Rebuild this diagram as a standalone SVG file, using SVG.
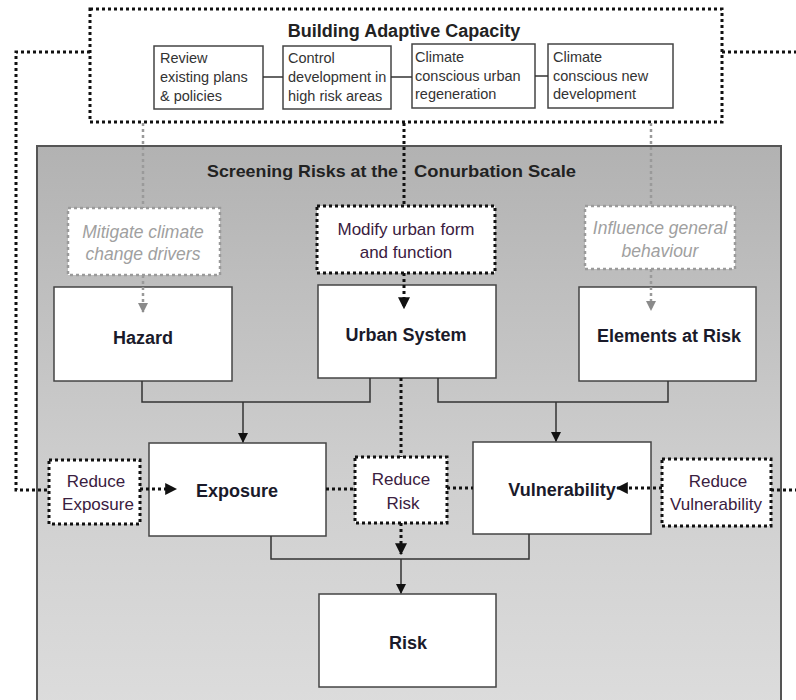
<svg xmlns="http://www.w3.org/2000/svg" width="796" height="700" viewBox="0 0 796 700">
<defs>
<linearGradient id="panelGrad" x1="0" y1="0" x2="0" y2="1">
<stop offset="0" stop-color="#b2b2b2"/>
<stop offset="0.6" stop-color="#cfcfcf"/>
<stop offset="1" stop-color="#dcdcdc"/>
</linearGradient>
<marker id="arrBlack" viewBox="0 0 10 10" refX="9" refY="5" markerWidth="4" markerHeight="4" orient="auto" markerUnits="strokeWidth">
<path d="M0,0 L10,5 L0,10 z" fill="#111"/>
</marker>
<marker id="arrSolid" viewBox="0 0 10 10" refX="9" refY="5" markerWidth="7" markerHeight="7" orient="auto" markerUnits="strokeWidth">
<path d="M0,0 L10,5 L0,10 z" fill="#111"/>
</marker>
<marker id="arrGray" viewBox="0 0 10 10" refX="9" refY="5" markerWidth="4" markerHeight="4" orient="auto" markerUnits="strokeWidth">
<path d="M0,0 L10,5 L0,10 z" fill="#8a8a8a"/>
</marker>
</defs>
<style>
.dotBlack{fill:none;stroke:#111;stroke-width:3;stroke-dasharray:3 3}
.dotGray{fill:none;stroke:#9a9a9a;stroke-width:2.5;stroke-dasharray:3 3}
.solid{fill:none;stroke:#333;stroke-width:1.5}
.box{fill:#fff;stroke:#444;stroke-width:1.5}
.small{font-family:"Liberation Sans",Arial,sans-serif;font-size:14.5px;fill:#333}
.title{font-family:"Liberation Sans",Arial,sans-serif;font-size:17px;font-weight:bold;fill:#222}
.node{font-family:"Liberation Sans",Arial,sans-serif;font-size:18px;font-weight:bold;fill:#1a1a2a;text-anchor:middle}
.act{font-family:"Liberation Sans",Arial,sans-serif;font-size:17px;fill:#3a2040;text-anchor:middle}
.gray{font-family:"Liberation Sans",Arial,sans-serif;font-size:17.5px;font-style:italic;fill:#a0a0a0;text-anchor:middle}
</style>

<g id="panel">
<rect x="37" y="146" width="744" height="560" fill="url(#panelGrad)" stroke="#555" stroke-width="2"/>
<text class="title" x="207" y="177" textLength="191" lengthAdjust="spacingAndGlyphs">Screening Risks at the</text>
<text class="title" x="414" y="177" textLength="162" lengthAdjust="spacingAndGlyphs">Conurbation Scale</text>
</g>

<g id="adaptive-capacity">
<rect class="dotBlack" x="90" y="9" width="632" height="113"/>
<text class="title" x="404" y="37" style="font-size:18px;text-anchor:middle">Building Adaptive Capacity</text>
</g>

<g id="review-plans">
<rect class="box" x="154" y="46" width="109" height="63"/>
<text class="small" x="160" y="63">Review</text>
<text class="small" x="160" y="82">existing plans</text>
<text class="small" x="160" y="101">&amp; policies</text>
</g>
<g id="control-development">
<rect class="box" x="283" y="46" width="108" height="63"/>
<text class="small" x="288" y="63">Control</text>
<text class="small" x="288" y="82">development in</text>
<text class="small" x="288" y="101">high risk areas</text>
</g>
<g id="urban-regeneration">
<rect class="box" x="412" y="44" width="123" height="64"/>
<text class="small" x="415" y="62">Climate</text>
<text class="small" x="415" y="81">conscious urban</text>
<text class="small" x="415" y="99">regeneration</text>
</g>
<g id="new-development">
<rect class="box" x="548" y="44" width="125" height="64"/>
<text class="small" x="553" y="62">Climate</text>
<text class="small" x="553" y="81">conscious new</text>
<text class="small" x="553" y="99">development</text>
</g>

<g id="mitigate">
<rect x="68" y="208" width="152" height="67" fill="#fff" stroke="#9a9a9a" stroke-width="2.5" stroke-dasharray="3 3"/>
<text class="gray" x="143" y="238">Mitigate climate</text>
<text class="gray" x="143" y="260">change drivers</text>
</g>
<g id="modify">
<rect x="317" y="206" width="178" height="67" class="dotBlack" style="fill:#fff"/>
<text class="act" x="406" y="235">Modify urban form</text>
<text class="act" x="406" y="258">and function</text>
</g>
<g id="influence">
<rect x="585" y="206" width="150" height="63" fill="#fff" stroke="#9a9a9a" stroke-width="2.5" stroke-dasharray="3 3"/>
<text class="gray" x="660" y="234">Influence general</text>
<text class="gray" x="660" y="257">behaviour</text>
</g>

<g id="hazard">
<rect class="box" x="54" y="287" width="178" height="94"/>
<text class="node" x="143" y="344">Hazard</text>
</g>
<g id="urban-system">
<rect class="box" x="318" y="285" width="178" height="93"/>
<text class="node" x="406" y="341">Urban System</text>
</g>
<g id="elements-at-risk">
<rect class="box" x="579" y="287" width="177" height="94"/>
<text class="node" x="669" y="342">Elements at Risk</text>
</g>

<g id="exposure">
<rect class="box" x="149" y="443" width="177" height="93"/>
<text class="node" x="237" y="497">Exposure</text>
</g>
<g id="vulnerability">
<rect class="box" x="473" y="442" width="178" height="92"/>
<text class="node" x="562" y="496">Vulnerability</text>
</g>
<g id="reduce-exposure">
<rect class="dotBlack" x="49" y="460" width="91" height="64" style="fill:#fff"/>
<text class="act" x="96" y="487">Reduce</text>
<text class="act" x="98" y="510">Exposure</text>
</g>
<g id="reduce-risk">
<rect class="dotBlack" x="355" y="457" width="92" height="66" style="fill:#fff"/>
<text class="act" x="401" y="485">Reduce</text>
<text class="act" x="403" y="509">Risk</text>
</g>
<g id="reduce-vulnerability">
<rect class="dotBlack" x="662" y="459" width="109" height="67" style="fill:#fff"/>
<text class="act" x="718" y="487">Reduce</text>
<text class="act" x="716" y="510">Vulnerability</text>
</g>

<g id="risk">
<rect class="box" x="319" y="594" width="177" height="93"/>
<text class="node" x="408" y="649">Risk</text>
</g>

<g id="connectors">
<!-- outer feedback loops -->
<polyline class="dotBlack" points="90,52 16,52 16,490 49,490"/>
<line class="dotBlack" x1="722" y1="52" x2="796" y2="52"/>
<line class="dotBlack" x1="771" y1="490" x2="796" y2="490"/>
<!-- gray vertical to hazard -->
<line class="dotGray" x1="143" y1="123" x2="143" y2="208"/>
<line class="dotGray" x1="143" y1="275" x2="143" y2="312" marker-end="url(#arrGray)"/>
<!-- gray vertical to elements -->
<line class="dotGray" x1="651" y1="123" x2="651" y2="206"/>
<line class="dotGray" x1="651" y1="269" x2="651" y2="310" marker-end="url(#arrGray)"/>
<!-- black vertical through urban system -->
<line class="dotBlack" x1="404" y1="123" x2="404" y2="206"/>
<line class="dotBlack" x1="404" y1="273" x2="404" y2="308" marker-end="url(#arrBlack)"/>
<line class="dotBlack" x1="401" y1="378" x2="401" y2="457"/>
<line class="dotBlack" x1="401" y1="523" x2="401" y2="554" marker-end="url(#arrBlack)"/>
<!-- horizontal dotted in middle row -->
<line class="dotBlack" x1="140" y1="489" x2="176" y2="489" marker-end="url(#arrBlack)"/>
<line class="dotBlack" x1="326" y1="489" x2="355" y2="489"/>
<line class="dotBlack" x1="447" y1="488" x2="473" y2="488"/>
<line class="dotBlack" x1="662" y1="488" x2="617" y2="488" marker-end="url(#arrBlack)"/>
<!-- solid connectors -->
<polyline class="solid" points="142,381 142,402 370,402 370,378"/>
<line class="solid" x1="243" y1="402" x2="243" y2="442" marker-end="url(#arrSolid)"/>
<polyline class="solid" points="438,378 438,402 668,402 668,381"/>
<line class="solid" x1="556" y1="402" x2="556" y2="441" marker-end="url(#arrSolid)"/>
<polyline class="solid" points="271,536 271,559 529,559 529,534"/>
<line class="solid" x1="401" y1="559" x2="401" y2="593" marker-end="url(#arrSolid)"/>
<!-- lines between inner strategy boxes -->
<line class="solid" x1="263" y1="77" x2="283" y2="77"/>
<line class="solid" x1="391" y1="77" x2="412" y2="77"/>
<line class="solid" x1="535" y1="76" x2="548" y2="76"/>
</g>
</svg>
